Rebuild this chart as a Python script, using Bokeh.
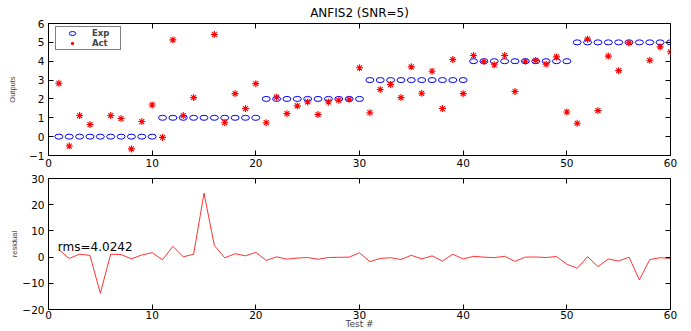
from bokeh.plotting import figure
from bokeh.models import (Range1d, LinearAxis, Legend, LegendItem, FixedTicker,
                          CustomLabelingPolicy, Label)
from bokeh.layouts import column
from bokeh.embed import file_html
from bokeh.resources import INLINE

# ---- data ----
test_no = [1, 2, 3, 4, 5, 6, 7, 8, 9, 10,
           11, 12, 13, 14, 15, 16, 17, 18, 19, 20,
           21, 22, 23, 24, 25, 26, 27, 28, 29, 30,
           31, 32, 33, 34, 35, 36, 37, 38, 39, 40,
           41, 42, 43, 44, 45, 46, 47, 48, 49, 50,
           51, 52, 53, 54, 55, 56, 57, 58, 59, 60]
expected = [0, 0, 0, 0, 0, 0, 0, 0, 0, 0,
            1, 1, 1, 1, 1, 1, 1, 1, 1, 1,
            2, 2, 2, 2, 2, 2, 2, 2, 2, 2,
            3, 3, 3, 3, 3, 3, 3, 3, 3, 3,
            4, 4, 4, 4, 4, 4, 4, 4, 4, 4,
            5, 5, 5, 5, 5, 5, 5, 5, 5, 5]
actual = [2.83, -0.50, 1.12, 0.64, -13.8, 1.12, 0.96, -0.65, 0.80, 1.68,
          -0.04, 5.13, 1.12, 2.07, 25.4, 5.42, 0.74, 2.28, 1.49, 2.81,
          0.74, 2.09, 1.22, 1.63, 1.84, 1.17, 1.84, 1.93, 1.98, 3.65,
          1.27, 2.50, 2.76, 2.07, 3.70, 2.30, 3.47, 1.49, 4.09, 2.28,
          4.30, 3.98, 3.81, 4.30, 2.39, 4.00, 4.04, 3.84, 4.23, 1.31,
          0.71, 5.17, 1.38, 4.27, 3.50, 4.97, -3.70, 4.05, 4.76, 4.50]
residual = [a - e for a, e in zip(actual, expected)]
x_ticks = [0, 10, 20, 30, 40, 50, 60]
top_y_ticks = [-1, 0, 1, 2, 3, 4, 5, 6]
bottom_y_ticks = [-20, -10, 0, 10, 20, 30]
title_text = "ANFIS2 (SNR=5)"
rms_text = "rms=4.0242"

FONT = "DejaVu Sans"
TICK_SIZE = "10.5px"
NO_LABELS = CustomLabelingPolicy(code="""
    for (const i of [...indices]) indices.unset(i)
    return indices
""")


def style_axis(ax, ticks):
    ax.ticker = FixedTicker(ticks=ticks)
    ax.major_tick_in = 5
    ax.major_tick_out = 0
    ax.minor_tick_line_color = None
    ax.major_tick_line_color = "black"
    ax.axis_line_color = "black"
    ax.major_label_text_font = FONT
    ax.major_label_text_font_size = TICK_SIZE
    ax.major_label_text_color = "black"


def mirror_axis(ticks):
    return LinearAxis(ticker=FixedTicker(ticks=ticks), major_tick_in=5, major_tick_out=0,
                      minor_tick_line_color=None, axis_line_color=None,
                      major_label_policy=NO_LABELS,
                      major_label_text_font_size="1px", major_label_standoff=0)


def base_fig(height, yr, top, bottom):
    p = figure(width=691, height=height, x_range=Range1d(0, 60), y_range=yr,
               output_backend="svg", toolbar_location=None,
               min_border_left=48, min_border_right=21,
               min_border_top=top, min_border_bottom=bottom)
    p.xgrid.visible = False
    p.ygrid.visible = False
    p.outline_line_color = "black"
    p.outline_line_width = 1
    p.background_fill_color = "white"
    p.border_fill_color = "white"
    return p


# ---- top plot ----
p1 = base_fig(172, Range1d(-1, 6), 23, 17)
style_axis(p1.xaxis[0], x_ticks)
style_axis(p1.yaxis[0], top_y_ticks)
p1.xaxis.major_label_standoff = 3
p1.yaxis.major_label_standoff = 4
p1.yaxis.axis_label = "Outputs"
p1.yaxis.axis_label_text_font = "Liberation Sans"
p1.yaxis.axis_label_text_font_size = "7.5px"
p1.yaxis.axis_label_text_font_style = "normal"
p1.yaxis.axis_label_standoff = 9
top_axis = mirror_axis(x_ticks)
top_axis.axis_label = title_text
top_axis.axis_label_text_font = FONT
top_axis.axis_label_text_font_size = "12px"
top_axis.axis_label_text_font_style = "normal"
top_axis.axis_label_text_color = "black"
top_axis.axis_label_standoff = 0
p1.add_layout(top_axis, "above")
p1.add_layout(mirror_axis(top_y_ticks), "right")

r_exp = p1.ellipse(x=test_no, y=expected, width=8, height=5,
                   width_units="screen", height_units="screen",
                   fill_color=None, line_color="blue", line_width=1)
r_act = p1.scatter(x=test_no, y=actual, marker="asterisk", size=7,
                   line_color="red", line_width=1.1)

legend = Legend(items=[LegendItem(label="Exp", renderers=[r_exp]),
                       LegendItem(label="Act", renderers=[r_act])],
                location=(7, 105), padding=1, spacing=0,
                glyph_width=30, glyph_height=8, label_height=8,
                label_standoff=5, label_width=27,
                border_line_color="black", border_line_width=1,
                background_fill_color="white", background_fill_alpha=1,
                label_text_font=FONT, label_text_font_style="bold",
                label_text_font_size="8.5px")
p1.add_layout(legend)

# ---- bottom plot ----
p2 = base_fig(159, Range1d(-20, 30), 6, 20)
style_axis(p2.xaxis[0], x_ticks)
style_axis(p2.yaxis[0], bottom_y_ticks)
p2.xaxis.major_label_standoff = 1
p2.xaxis.axis_label = "Test #"
p2.xaxis.axis_label_text_font = FONT
p2.xaxis.axis_label_text_font_size = "9px"
p2.xaxis.axis_label_text_font_style = "normal"
p2.xaxis.axis_label_standoff = -3
p2.yaxis.major_label_standoff = 4
p2.yaxis.axis_label = "residual"
p2.yaxis.axis_label_text_font = "Liberation Sans"
p2.yaxis.axis_label_text_font_size = "7.5px"
p2.yaxis.axis_label_text_font_style = "normal"
p2.yaxis.axis_label_standoff = 0
p2.add_layout(mirror_axis(x_ticks), "above")
p2.add_layout(mirror_axis(bottom_y_ticks), "right")

p2.line(x=test_no, y=residual, line_color="red", line_width=1, line_alpha=0.8)

p2.add_layout(Label(x=0.9, y=3.9, text=rms_text, text_baseline="alphabetic",
                    text_font=FONT, text_font_size="12px", text_color="black"))

layout = column(p1, p2, spacing=0)
open("out.html", "w").write(file_html(layout, INLINE))
